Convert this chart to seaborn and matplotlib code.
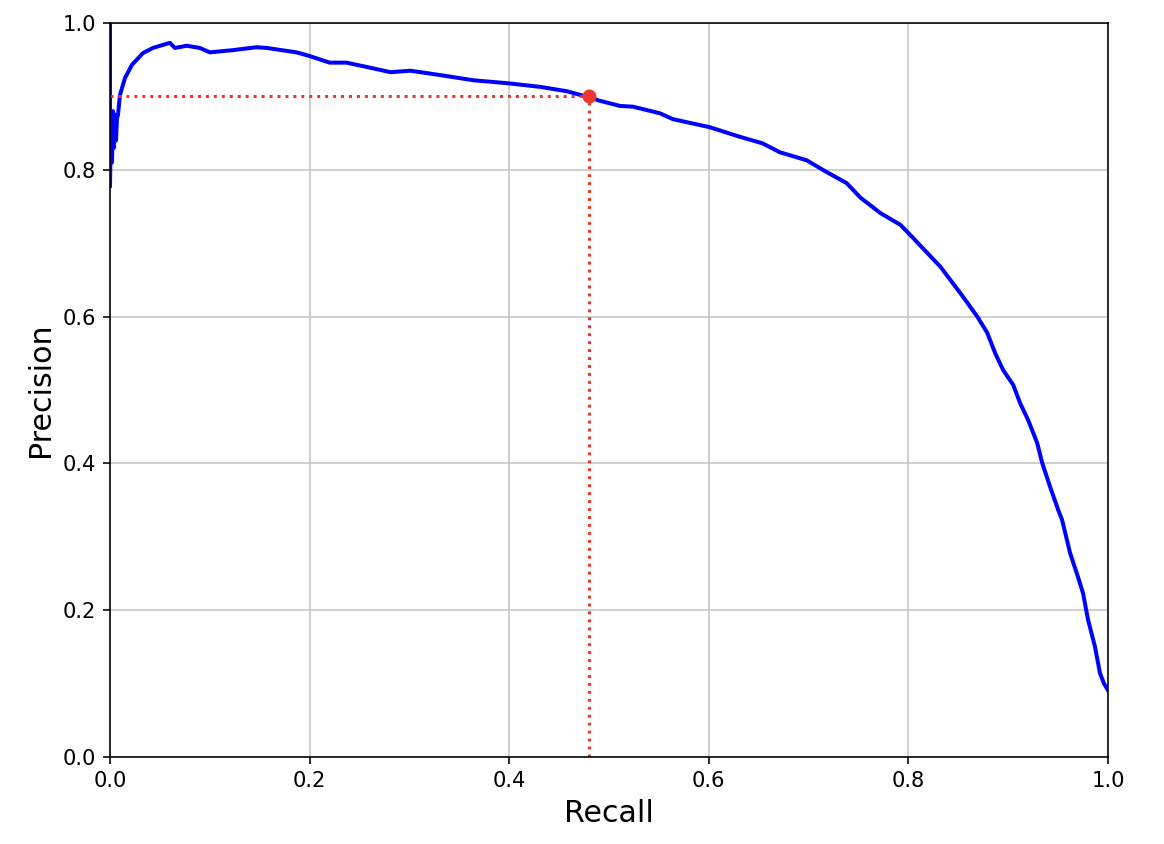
import seaborn as sns
import matplotlib.pyplot as plt
import pandas as pd

# precision / recall curve
recall = [0.0, 0.0, 0.001, 0.002, 0.003, 0.004, 0.005, 0.006, 0.007, 0.008,
          0.010, 0.015, 0.022, 0.033, 0.043, 0.060, 0.065, 0.077, 0.090, 0.100,
          0.123, 0.147, 0.157, 0.187, 0.200, 0.220, 0.237, 0.261, 0.281, 0.301,
          0.331, 0.364, 0.398, 0.431, 0.458, 0.479, 0.491, 0.511, 0.524, 0.551,
          0.564, 0.601, 0.631, 0.654, 0.671, 0.698, 0.718, 0.738, 0.752, 0.772,
          0.792, 0.802, 0.832, 0.852, 0.859, 0.869, 0.879, 0.887, 0.895, 0.905,
          0.912, 0.920, 0.929, 0.934, 0.942, 0.950, 0.954, 0.962, 0.970, 0.975,
          0.980, 0.987, 0.992, 0.996, 1.0]
precision = [1.0, 0.777, 0.870, 0.810, 0.880, 0.830, 0.875, 0.840, 0.870, 0.875,
             0.902, 0.925, 0.943, 0.959, 0.966, 0.973, 0.966, 0.969, 0.966, 0.960,
             0.963, 0.967, 0.966, 0.960, 0.955, 0.946, 0.946, 0.939, 0.933, 0.935,
             0.929, 0.922, 0.918, 0.913, 0.907, 0.899, 0.894, 0.887, 0.886, 0.877,
             0.869, 0.858, 0.845, 0.836, 0.824, 0.813, 0.797, 0.782, 0.762, 0.741,
             0.725, 0.711, 0.668, 0.632, 0.619, 0.600, 0.578, 0.550, 0.527, 0.507,
             0.482, 0.459, 0.428, 0.401, 0.368, 0.337, 0.323, 0.278, 0.245, 0.223,
             0.187, 0.150, 0.114, 0.100, 0.091]

recall_90 = 0.48
precision_90 = 0.90

df = pd.DataFrame({'Recall': recall, 'Precision': precision})

dpi = 144
fig = plt.figure(figsize=(1164 / dpi, 844 / dpi), dpi=dpi)
ax = fig.add_axes([110 / 1164, 1 - 757 / 844, 998 / 1164, 734 / 844])

sns.lineplot(data=df, x='Recall', y='Precision', sort=False, estimator=None,
             color='blue', linewidth=2, ax=ax)

red = '#e8392b'
ax.plot([recall_90, recall_90], [0.0, precision_90], ':', color=red, linewidth=1.5)
ax.plot([0.0, recall_90], [precision_90, precision_90], ':', color=red, linewidth=1.5)
ax.plot([recall_90], [precision_90], 'o', color=red, markersize=6)

ax.set_xlim(0, 1)
ax.set_ylim(0, 1)
ax.set_xlabel("Recall", fontsize=15)
ax.set_ylabel("Precision", fontsize=15)
ax.tick_params(labelsize=10.5)
ax.grid(True, color='#c4c4c4')

plt.savefig('out.png', dpi=dpi)
plt.close()
